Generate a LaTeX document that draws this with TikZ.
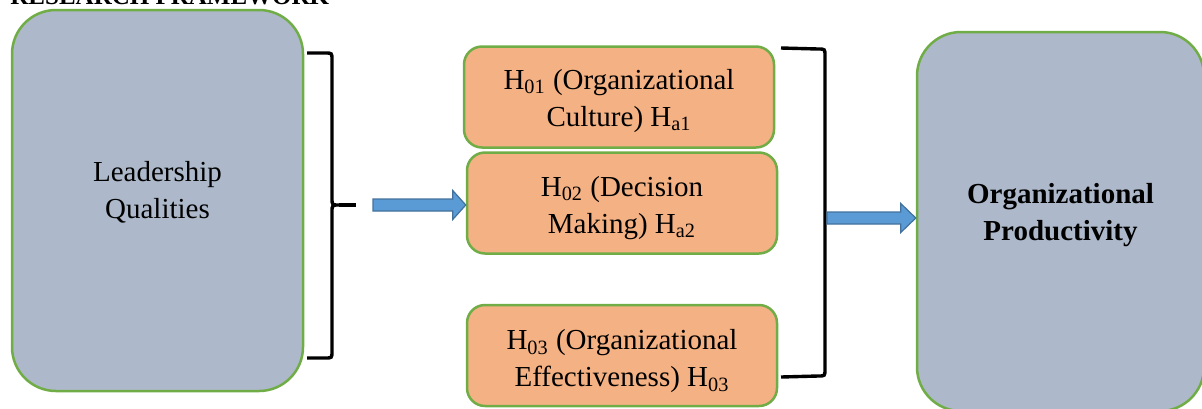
\documentclass[tikz,border=0pt]{standalone}
\usepackage{fontspec}
\setmainfont{Liberation Serif}
\usetikzlibrary{calc}
\definecolor{boxgray}{HTML}{ADB9CA}
\definecolor{boxorange}{HTML}{F4B183}
\definecolor{boxgreen}{HTML}{70AD47}
\definecolor{arrowblue}{HTML}{5B9BD5}
\definecolor{arrowedge}{HTML}{41719C}
\newcommand{\figfont}{\fontsize{14.5}{18.5}\selectfont}
% fat block arrow: from, to, head length
\newcommand{\fatarrow}[3]{%
  \draw[blockarrow] ($(#1)+(0,-6)$) -- ($(#2)+(-#3,-6)$) -- ($(#2)+(-#3,-14.5)$)
    -- (#2) -- ($(#2)+(-#3,14.5)$) -- ($(#2)+(-#3,6)$) -- ($(#1)+(0,6)$) -- cycle;}

\begin{document}
\begin{tikzpicture}[x=0.5pt, y=-0.5pt, font=\figfont,
    outerbox/.style={draw=boxgreen, line width=1.25pt, fill=boxgray, rounded corners=22pt, align=center, inner sep=0pt},
    hypbox/.style={draw=boxgreen, line width=1.25pt, fill=boxorange, rounded corners=9pt, align=center,
        minimum width=155pt, minimum height=50.5pt, inner sep=0pt},
    brace/.style={line width=1.7pt},
    blockarrow/.style={fill=arrowblue, draw=arrowedge, line width=0.6pt}]
        \useasboundingbox (0,0) rectangle (1202,408);
        % Title, cut off at the top
        \node[anchor=base west, inner sep=0pt, font=\fontsize{12.5}{15}\selectfont\bfseries] (title) at (10,4) {RESEARCH FRAMEWORK};
        % Independent variable
        \node[outerbox, minimum width=145.5pt, minimum height=190.5pt] (lead) at (157.5,200.5)
            {Leadership\\Qualities\rule[-11pt]{0pt}{0pt}};
        % Hypotheses
        \node[hypbox] (h01) at (619,97) {\rule{0pt}{13.8pt}H\textsubscript{01} (Organizational\\Culture) H\textsubscript{a1}};
        \node[hypbox] (h02) at (622,203) {\rule{0pt}{14.8pt}H\textsubscript{02} (Decision\\Making) H\textsubscript{a2}};
        \node[hypbox] (h03) at (622,355.5) {\rule{0pt}{15.8pt}H\textsubscript{03} (Organizational\\Effectiveness) H\textsubscript{03}};
        % Dependent variable
        \node[outerbox, minimum width=143.5pt, minimum height=189.5pt, font=\figfont\bfseries] (prod) at (1060.5,221.5)
            {Organizational\\Productivity\rule[-9.5pt]{0pt}{0pt}};
        % Left curly brace
        \draw[brace] (307,53) -- (325,53) .. controls (332,53) .. (332,60) -- (332,198)
            .. controls (332,205) .. (339,205) .. controls (332,205) .. (332,212) -- (332,351)
            .. controls (332,358) .. (325,358) -- (307,358);
        \coordinate (tipL) at (339,205);
        \draw[brace] (tipL) -- (356,205);
        % Right square bracket
        \draw[brace] (781,48) -- (818,49) .. controls (825,49) .. (825,56) -- (825,369)
            .. controls (825,376) .. (818,376) -- (781,377);
        % Arrows
        \coordinate (a1s) at (373,205);
        \fatarrow{a1s}{a1s -| h02.west}{13}
        \coordinate (a2s) at (827,218);
        \fatarrow{a2s}{a2s -| prod.west}{15}
    \end{tikzpicture}
\end{document}
